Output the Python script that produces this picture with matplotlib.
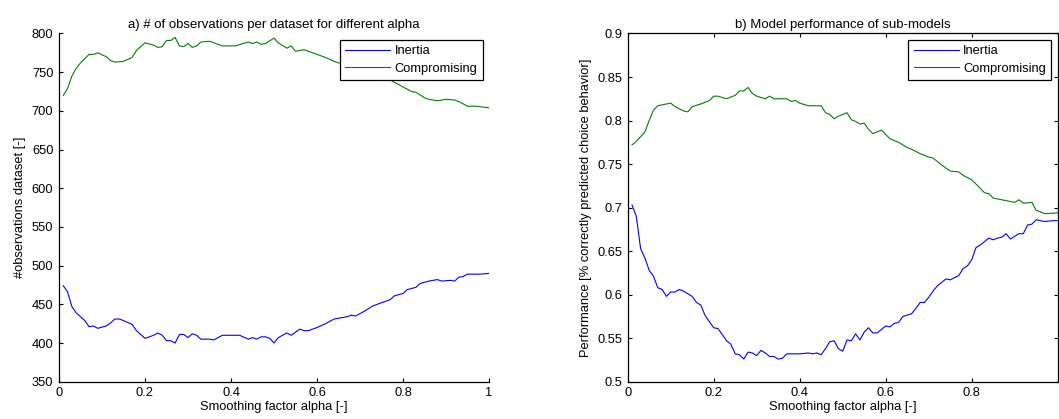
import matplotlib
matplotlib.use("Agg")
import matplotlib.pyplot as plt
from matplotlib.ticker import FuncFormatter

plt.rcParams['font.family'] = ['Liberation Sans', 'DejaVu Sans']
plt.rcParams['font.size'] = 9.3

# a) observations per dataset
obs_alpha_comp = [0.01, 0.02, 0.03, 0.04, 0.05, 0.07, 0.08, 0.09, 0.11, 0.12,
                  0.13, 0.15, 0.17, 0.18, 0.20, 0.22, 0.23, 0.24, 0.25, 0.26,
                  0.27, 0.28, 0.29, 0.30, 0.31, 0.32, 0.33, 0.35, 0.36, 0.38,
                  0.41, 0.44, 0.45, 0.46, 0.47, 0.48, 0.50, 0.51, 0.53, 0.54,
                  0.55, 0.57, 0.58, 0.60, 0.62, 0.64, 0.65, 0.69, 0.72, 0.75,
                  0.77, 0.79, 0.82, 0.83, 0.85, 0.86, 0.88, 0.90, 0.92, 0.93,
                  0.95, 0.97, 1.00]
obs_comp = [720, 729, 745, 755, 762, 773, 773, 775, 770, 765,
            763, 764, 769, 778, 788, 785, 782, 783, 791, 791,
            795, 784, 783, 787, 782, 784, 789, 790, 788, 784,
            784, 789, 787, 789, 786, 787, 794, 788, 781, 784,
            777, 779, 777, 773, 769, 764, 762, 756, 750, 744,
            740, 734, 725, 724, 717, 715, 713, 715, 714, 712,
            706, 706, 704]

obs_alpha_inert = [0.01, 0.02, 0.03, 0.04, 0.06, 0.07, 0.08, 0.09, 0.11, 0.12,
                   0.13, 0.14, 0.15, 0.17, 0.18, 0.20, 0.22, 0.23, 0.24, 0.25,
                   0.26, 0.27, 0.28, 0.29, 0.30, 0.31, 0.32, 0.33, 0.35, 0.36,
                   0.38, 0.42, 0.44, 0.45, 0.46, 0.47, 0.48, 0.49, 0.50, 0.51,
                   0.53, 0.54, 0.56, 0.57, 0.58, 0.60, 0.62, 0.64, 0.67, 0.68,
                   0.69, 0.71, 0.73, 0.75, 0.77, 0.78, 0.80, 0.81, 0.83, 0.84,
                   0.86, 0.88, 0.89, 0.91, 0.92, 0.93, 0.94, 0.95, 0.98, 1.00]
obs_inert = [474, 466, 447, 439, 429, 421, 422, 419, 422, 426,
             431, 431, 429, 424, 416, 406, 410, 413, 410, 403,
             403, 400, 411, 411, 407, 412, 410, 405, 405, 404,
             410, 410, 405, 407, 405, 408, 408, 406, 400, 407,
             413, 410, 418, 416, 416, 420, 425, 431, 434, 436,
             435, 441, 448, 452, 456, 461, 464, 469, 472, 477,
             480, 482, 480, 481, 480, 485, 486, 489, 489, 490]

# b) model performance
perf_alpha_comp = [0.01, 0.02, 0.04, 0.05, 0.06, 0.07, 0.08, 0.10, 0.11, 0.13,
                   0.14, 0.15, 0.17, 0.19, 0.20, 0.21, 0.23, 0.25, 0.26, 0.27,
                   0.28, 0.29, 0.30, 0.32, 0.33, 0.34, 0.35, 0.37, 0.38, 0.39,
                   0.40, 0.42, 0.45, 0.46, 0.47, 0.48, 0.49, 0.51, 0.52, 0.53,
                   0.54, 0.55, 0.56, 0.57, 0.59, 0.60, 0.61, 0.63, 0.65, 0.66,
                   0.68, 0.70, 0.71, 0.73, 0.75, 0.77, 0.78, 0.80, 0.81, 0.83,
                   0.84, 0.85, 0.87, 0.90, 0.91, 0.92, 0.94, 0.95, 0.97, 1.00]
perf_comp = [0.772, 0.776, 0.787, 0.800, 0.812, 0.817, 0.818, 0.820, 0.816, 0.811,
             0.810, 0.816, 0.819, 0.823, 0.828, 0.828, 0.825, 0.829, 0.834, 0.834,
             0.838, 0.831, 0.828, 0.825, 0.828, 0.825, 0.825, 0.825, 0.822, 0.823,
             0.820, 0.817, 0.817, 0.809, 0.807, 0.802, 0.805, 0.809, 0.801, 0.799,
             0.796, 0.797, 0.790, 0.785, 0.789, 0.784, 0.779, 0.775, 0.769, 0.767,
             0.762, 0.758, 0.757, 0.749, 0.742, 0.741, 0.737, 0.732, 0.727, 0.717,
             0.716, 0.711, 0.709, 0.706, 0.709, 0.705, 0.706, 0.697, 0.693, 0.694]

perf_alpha_inert = [0.01, 0.02, 0.03, 0.04, 0.05, 0.06, 0.07, 0.08, 0.09, 0.10,
                    0.11, 0.12, 0.13, 0.15, 0.16, 0.17, 0.18, 0.19, 0.20, 0.21,
                    0.22, 0.23, 0.24, 0.25, 0.26, 0.27, 0.28, 0.29, 0.30, 0.31,
                    0.32, 0.33, 0.34, 0.35, 0.36, 0.37, 0.40, 0.42, 0.43, 0.44,
                    0.45, 0.46, 0.47, 0.48, 0.49, 0.50, 0.51, 0.52, 0.53, 0.54,
                    0.55, 0.56, 0.57, 0.58, 0.60, 0.61, 0.62, 0.63, 0.64, 0.66,
                    0.67, 0.68, 0.69, 0.70, 0.71, 0.72, 0.74, 0.75, 0.77, 0.78,
                    0.79, 0.80, 0.81, 0.82, 0.84, 0.85, 0.86, 0.87, 0.88, 0.89,
                    0.91, 0.92, 0.93, 0.94, 0.95, 0.97, 0.99, 1.00]
perf_inert = [0.703, 0.690, 0.653, 0.642, 0.628, 0.621, 0.608, 0.606, 0.598, 0.603,
              0.603, 0.606, 0.604, 0.598, 0.591, 0.588, 0.576, 0.569, 0.562, 0.561,
              0.554, 0.547, 0.543, 0.532, 0.531, 0.526, 0.534, 0.533, 0.530, 0.536,
              0.533, 0.529, 0.529, 0.526, 0.527, 0.532, 0.532, 0.533, 0.532, 0.533,
              0.531, 0.538, 0.546, 0.547, 0.538, 0.535, 0.548, 0.547, 0.555, 0.548,
              0.557, 0.562, 0.556, 0.556, 0.564, 0.563, 0.567, 0.568, 0.575, 0.578,
              0.584, 0.591, 0.591, 0.597, 0.604, 0.610, 0.618, 0.617, 0.622, 0.630,
              0.633, 0.640, 0.654, 0.657, 0.665, 0.663, 0.665, 0.666, 0.670, 0.664,
              0.670, 0.670, 0.680, 0.681, 0.686, 0.684, 0.685, 0.685]

x_ticks = [0, 0.2, 0.4, 0.6, 0.8, 1.0]

blue = '#0000ff'
green = '#008000'

fig = plt.figure(figsize=(10.59, 4.19), dpi=100)
ax1 = fig.add_axes([59 / 1059, 37.3 / 419, 430 / 1059, 348.2 / 419])
ax2 = fig.add_axes([627.7 / 1059, 37.3 / 419, 430 / 1059, 348.2 / 419])

ax1.plot(obs_alpha_inert, obs_inert, color=blue, lw=0.8, label='Inertia')
ax1.plot(obs_alpha_comp, obs_comp, color=green, lw=0.8, label='Compromising')
ax1.set_xlim(0, 1)
ax1.set_ylim(350, 800)
ax1.set_yticks(range(350, 801, 50))
ax1.spines['top'].set_visible(False)
ax1.spines['right'].set_visible(False)
ax1.set_title('a) # of observations per dataset for different alpha',
              fontsize=9.5, pad=4)
ax1.set_ylabel('#observations dataset [-]', labelpad=4)
ax1.tick_params(direction='in', length=3, width=0.8, pad=4)
ax1.set_xticks(x_ticks)
ax1.set_xticklabels(['%g' % t for t in x_ticks])

ax2.plot(perf_alpha_inert, perf_inert, color=blue, lw=0.8, label='Inertia')
ax2.plot(perf_alpha_comp, perf_comp, color=green, lw=0.8, label='Compromising')
ax2.set_xlim(0, 1)
ax2.set_ylim(0.5, 0.9)
ax2.set_yticks([0.5, 0.55, 0.6, 0.65, 0.7, 0.75, 0.8, 0.85, 0.9])
ax2.set_title('b) Model performance of sub-models', fontsize=9.5, pad=4)
ax2.set_ylabel('Performance [% correctly predicted choice behavior]', labelpad=4)
ax2.tick_params(direction='in', length=3, width=0.8, pad=4, top=True, right=True)
# the figure edge cuts off the last label in the original
ax2.set_xticks(x_ticks)
ax2.set_xticklabels(['%g' % t for t in x_ticks[:-1]] + [''])

fmt = FuncFormatter(lambda v, p: '%g' % round(v, 3))
for ax in (ax1, ax2):
    ax.yaxis.set_major_formatter(fmt)
    ax.set_xlabel('Smoothing factor alpha [-]', labelpad=1)
    for s in ax.spines.values():
        s.set_linewidth(0.9)
    leg = ax.legend(loc='upper right', fancybox=False, framealpha=1,
                    edgecolor='black', handlelength=3.5,
                    borderaxespad=0.5, borderpad=0.4, labelspacing=0.45,
                    handletextpad=0.35)
    leg.get_frame().set_linewidth(0.9)

fig.savefig('out.png', dpi=100)
